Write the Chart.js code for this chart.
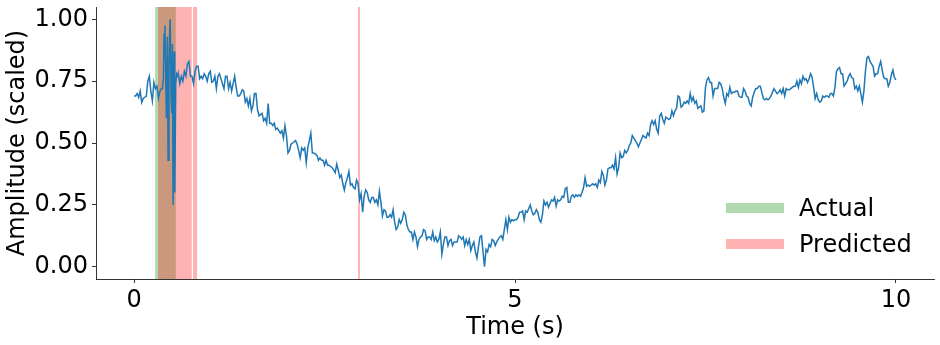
<!DOCTYPE html>
<html><head><meta charset="utf-8">
<script src="https://cdn.jsdelivr.net/npm/chart.js@4.4.0/dist/chart.umd.min.js"></script>
<style>html,body{margin:0;padding:0;background:#fff}#wrap{width:940px;height:345px}</style>
</head><body><div id="wrap"><canvas id="c" width="940" height="345"></canvas></div>
<script>
// ---- data ----
const timeStep = 0.04; // seconds between samples inside each array
// samples at t = 0, 0.04, 0.08, ... (null = covered by burst samples)
const amplitudeA = [
0.69,0.70,0.71,0.68,0.69,0.77,0.67,0.72,0.68,0.72,
null,null,null,null,null,0.74,0.75,0.77,0.83,0.77,
0.79,0.81,0.77,0.78,0.75,0.79,0.75,0.72,0.78,0.74,
0.77,0.72,0.71,0.77,0.69,0.70,0.71,0.68,0.68,0.65,
0.70,0.61,0.62,0.60,0.66,0.58,0.58,0.56,0.54,0.52,
0.53,0.47,0.50,0.51,0.47,0.48,0.48,0.48,0.54,0.46,
0.45,0.44,0.43,0.43,0.41,0.40,0.38,0.39,0.37,0.31,
0.36,0.33,0.32,0.35,0.27,0.22,0.31,0.27,0.28,0.26,
0.25,0.26,0.23,0.20,0.21,0.23,0.15,0.19,0.19,0.21,
0.15,0.14,0.14,0.08,0.12,0.15,0.11,0.12,0.14,0.12,
0.11,0.05,0.12,0.085,0.11,0.10,0.10,0.12,0.12,0.11,
0.11,0.085,0.06,0.08,0.125,0.00,0.06,0.08,0.105,0.10,
0.12,0.11,0.19,0.20,0.19,0.19,0.20,0.22,0.19,0.22,
0.25,0.21,0.23,0.19,0.21,0.25,0.24,0.27,0.28,0.27,
0.27,0.28,0.32,0.26,0.29,0.29,0.29,0.30,0.36,0.33,
0.33,0.33,0.32,0.34,0.37,0.35,0.40,0.41,0.44,0.40,
0.44,0.47,0.47,0.50,0.52,0.50,0.50,0.53,0.52,0.53,
0.59,0.59,0.54,0.62,0.58,0.60,0.60,0.61,0.64,0.685,
0.65,0.66,0.66,0.67,0.66,0.64,0.65,0.63,0.755,0.745,
0.69,0.72,0.745,0.72,0.66,0.69,0.70,0.705,0.71,0.685,
0.72,0.69,0.66,0.685,0.72,0.73,0.705,0.675,0.675,0.69,
0.72,0.70,0.715,0.72,0.72,0.715,0.725,0.73,0.725,0.74,
0.755,0.745,0.78,0.725,0.70,0.665,0.69,0.69,0.685,0.70,
0.725,0.80,0.78,0.73,0.75,0.78,0.76,0.73,0.73,0.665,
0.79,0.85,0.82,0.77,0.78,0.83,0.765,0.76,0.745,0.795,
0.755
];
// samples at t = 0.02, 0.06, 0.10, ... (null = covered by burst samples)
const amplitudeB = [
0.69,0.685,0.664,0.685,0.75,0.71,0.745,0.73,0.71,null,
null,null,null,null,0.78,0.77,0.79,0.82,0.77,0.74,
0.81,0.76,0.76,0.77,0.78,0.745,0.77,0.77,0.76,0.72,
0.77,0.745,0.74,0.725,0.69,0.715,0.665,0.65,0.63,0.70,
0.635,0.615,0.59,0.58,0.58,0.57,0.555,0.55,0.55,0.57,
0.46,0.495,0.505,0.495,0.44,0.47,0.42,0.51,0.46,0.455,
0.43,0.43,0.41,0.41,0.405,0.39,0.415,0.36,0.335,0.34,
0.385,0.335,0.315,0.335,0.295,0.285,0.30,0.26,0.28,0.27,
0.305,0.205,0.225,0.20,0.20,0.18,0.16,0.175,0.22,0.17,
0.14,0.11,0.12,0.11,0.125,0.145,0.12,0.11,0.105,0.10,
0.14,0.09,0.12,0.105,0.085,0.10,0.125,0.11,0.085,0.09,
0.065,0.10,0.035,0.12,0.06,0.07,0.09,0.11,0.085,0.11,
0.125,0.15,0.15,0.18,0.185,0.19,0.22,0.225,0.225,0.235,
0.225,0.215,0.22,0.18,0.265,0.26,0.255,0.265,0.245,0.265,
0.285,0.315,0.26,0.285,0.28,0.285,0.285,0.32,0.325,0.325,
0.335,0.335,0.35,0.385,0.33,0.395,0.40,0.395,0.375,0.46,
0.445,0.46,0.49,0.53,0.51,0.485,0.515,0.525,0.54,0.575,
0.575,0.555,0.61,0.595,0.605,0.595,0.63,0.63,0.69,0.645,
0.665,0.67,0.70,0.685,0.67,0.645,0.625,0.725,0.765,0.745,
0.72,0.72,0.74,0.685,0.70,0.725,0.705,0.71,0.69,0.685,
0.71,0.685,0.65,0.705,0.72,0.73,0.68,0.68,0.68,0.705,
0.71,0.705,0.70,0.69,0.715,0.72,0.73,0.75,0.755,0.77,
0.76,0.76,0.765,0.68,0.675,0.67,0.685,0.69,0.70,0.69,
0.79,0.805,0.78,0.74,0.77,0.765,0.72,0.71,0.70,0.71,
0.845,0.83,0.81,0.78,0.81,0.795,0.76,0.73,0.775,0.765
];
// dense samples of the burst between 0.37 s and 0.58 s
const burstTimes = [0.372,0.385,0.394,0.405,0.424,0.437,0.446,0.458,0.468,0.474,0.486,0.494,0.503,0.512,0.525,0.534,0.547,0.560,0.575];
const burstAmplitude = [0.72,0.76,0.94,0.975,0.60,0.93,0.43,0.80,0.96,1.00,0.68,0.62,0.90,0.25,0.87,0.30,0.74,0.78,0.77];
const actualSpans = [[0.276, 0.547]];
const predictedSpans = [[0.315, 0.757], [0.774, 0.827], [2.94, 2.965]];
const xTickValues = [0, 5, 10];
const yTickValues = [0, 0.25, 0.5, 0.75, 1.0];
const legendLabels = ['Actual', 'Predicted'];
const xTitle = 'Time (s)';
const yTitle = 'Amplitude (scaled)';

// ---- build ----
const points = [];
amplitudeA.forEach((v, i) => { if (v !== null) points.push({x: +(i * timeStep).toFixed(3), y: v}); });
amplitudeB.forEach((v, i) => { if (v !== null) points.push({x: +(i * timeStep + timeStep / 2).toFixed(3), y: v}); });
burstTimes.forEach((t, i) => points.push({x: t, y: burstAmplitude[i]}));
points.sort((a, b) => a.x - b.x);

const FONT = 'DejaVu Sans';
const GREEN = 'rgba(0,128,0,0.3)';
const RED = 'rgba(255,0,0,0.3)';

const spanPlugin = {
  id: 'spans',
  beforeDatasetsDraw(chart) {
    const {ctx, chartArea: a, scales: {x}} = chart;
    ctx.save();
    ctx.beginPath(); ctx.rect(a.left, a.top, a.right - a.left, a.bottom - a.top); ctx.clip();
    const draw = (spans, color) => spans.forEach(([s, e]) => {
      const p0 = x.getPixelForValue(s), p1 = x.getPixelForValue(e);
      ctx.fillStyle = color;
      ctx.fillRect(p0, a.top, p1 - p0, a.bottom - a.top);
    });
    draw(actualSpans, GREEN);
    draw(predictedSpans, RED);
    ctx.restore();
  }
};

const legendPlugin = {
  id: 'mplLegend',
  afterDraw(chart) {
    const {ctx, chartArea: a} = chart;
    const colors = [GREEN, RED];
    ctx.save();
    ctx.font = '24px "' + FONT + '"';
    ctx.textBaseline = 'alphabetic';
    ctx.textAlign = 'left';
    legendLabels.forEach((label, k) => {
      const base = a.bottom - 63 + k * 36;
      ctx.fillStyle = colors[k];
      ctx.fillRect(a.right - 208, base - 13, 58, 10);
      ctx.fillStyle = '#000';
      ctx.fillText(label, a.right - 135, base);
    });
    ctx.restore();
  }
};

const axisCommon = {
  grid: {drawOnChartArea: false, drawTicks: true, tickLength: 4, color: '#000', lineWidth: 0.8},
  border: {display: true, color: '#000', width: 0.8}
};

new Chart(document.getElementById('c'), {
  type: 'scatter',
  data: {
    datasets: [{
      data: points,
      showLine: true,
      borderColor: '#1f77b4',
      backgroundColor: '#1f77b4',
      borderWidth: 1.5,
      pointRadius: 0,
      tension: 0
    }]
  },
  options: {
    responsive: false,
    animation: false,
    devicePixelRatio: 1,
    layout: {padding: {top: 7, right: 6, left: 0, bottom: 0}},
    plugins: {legend: {display: false}, tooltip: {enabled: false}},
    scales: {
      x: Object.assign({
        type: 'linear', min: -0.5, max: 10.5,
        afterBuildTicks(s) { s.ticks = xTickValues.map(v => ({value: v})); },
        afterFit(s) { s.height = 66; s.paddingLeft = 0; s.paddingRight = 0; },
        ticks: {font: {family: FONT, size: 24}, color: '#000', padding: 3, maxRotation: 0, autoSkip: false,
                callback: v => String(v)},
        title: {display: true, text: xTitle, font: {family: FONT, size: 24}, color: '#000', padding: {top: 0, bottom: 3}}
      }, axisCommon),
      y: Object.assign({
        type: 'linear', min: -0.05, max: 1.05,
        afterBuildTicks(s) { s.ticks = yTickValues.map(v => ({value: v})); },
        afterFit(s) { s.width = 96; s.paddingTop = 0; s.paddingBottom = 0; },
        ticks: {font: {family: FONT, size: 24}, color: '#000', padding: 4, autoSkip: false,
                callback: v => Number(v).toFixed(2)},
        title: {display: true, text: yTitle, font: {family: FONT, size: 24}, color: '#000', padding: {top: 3, bottom: 0}}
      }, axisCommon)
    }
  },
  plugins: [spanPlugin, legendPlugin]
});
</script>
</body></html>
